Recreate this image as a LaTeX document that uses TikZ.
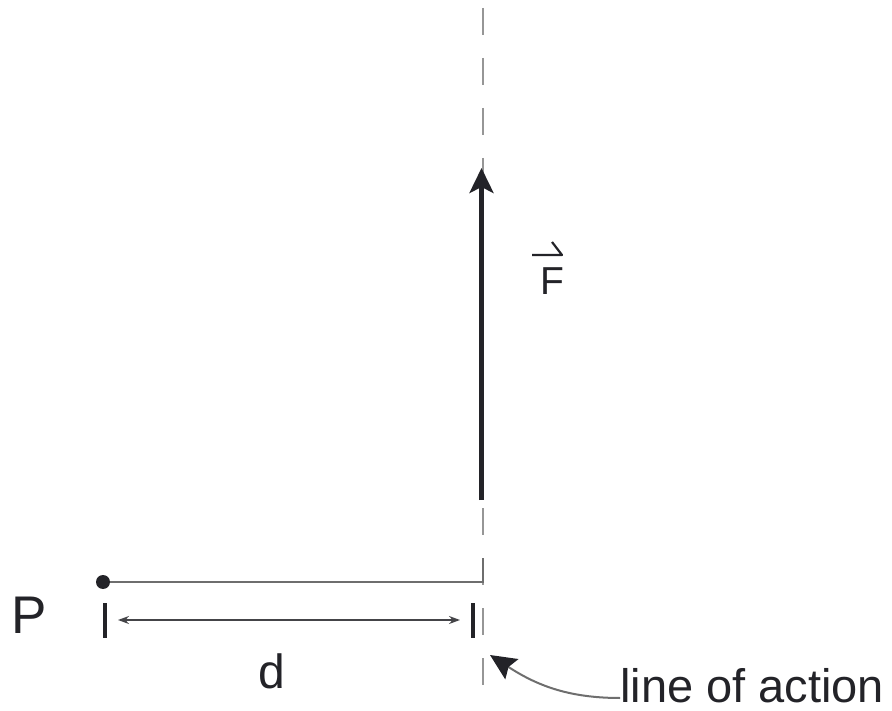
\documentclass[tikz,border=0pt]{standalone}
\usepackage{fontspec}
\setmainfont{Liberation Sans}
\usetikzlibrary{arrows.meta}
\definecolor{lgray}{RGB}{150,150,150}
\definecolor{mgray}{RGB}{110,110,110}
\definecolor{ink}{RGB}{35,35,40}
\tikzset{
  lbl/.style={inner sep=0pt, text=ink},
  tick/.style={line width=4pt, ink},
  actline/.style={lgray, line width=2pt, dash pattern=on 27pt off 23pt},
  dimline/.style={ink!85, line width=1.6pt, {Stealth[length=11pt,width=8pt]}-{Stealth[length=11pt,width=8pt]}},
  forcearrow/.style={line width=4.5pt, ink, -{Stealth[length=25pt,width=24pt,inset=6pt]}},
  pointer/.style={mgray, line width=2pt, -{Stealth[length=26pt,width=24pt,inset=4pt,color=ink]}}
}
\begin{document}
\begin{tikzpicture}[x=1pt,y=-1pt]
\useasboundingbox (0,0) rectangle (892,711);
% line of action (dashed)
\coordinate (ltop) at (483,8);
\coordinate (lbot) at (483,700);
\draw[actline] (ltop) -- (lbot);
% point P and perpendicular
\node[circle, fill=ink, minimum size=14pt, inner sep=0pt] (dot) at (103,582) {};
\coordinate (corner) at (483,582);
\draw[mgray, line width=2pt] (dot) -- (corner) -- (483,558);
% force
\coordinate (fbot) at (481.5,500);
\coordinate (ftop) at (481.5,168);
\draw[forcearrow] (fbot) -- (ftop);
\node[lbl, anchor=base west, font=\fontsize{39}{44}\selectfont] (F) at (540,295) {F};
\coordinate (h1) at (532,255);
\coordinate (h2) at (562,255);
\coordinate (h3) at (552,242);
\draw[ink, line width=2.2pt, line join=round] (h1) -- (h2) -- (h3);
% ticks and distance
\coordinate (t1a) at (105,603); \coordinate (t1b) at (105,638);
\coordinate (t2a) at (473,603); \coordinate (t2b) at (473,638);
\draw[tick] (t1a) -- (t1b);
\draw[tick] (t2a) -- (t2b);
\coordinate (d1) at (118,620);
\coordinate (d2) at (460,620);
\draw[dimline] (d1) -- (d2);
\node[lbl, anchor=base, font=\fontsize{48}{52}\selectfont] (d) at (272,688) {d};
\node[lbl, anchor=base west, font=\fontsize{53}{57}\selectfont] (P) at (11,633) {P};
% line of action label
\node[lbl, anchor=base west, font=\fontsize{47}{51}\selectfont] (loa) at (620,702) {line of action};
\coordinate (tip) at (490,655);
\draw[pointer] (loa.west |- 0,698) to[out=180, in=-33] (tip);
\end{tikzpicture}
\end{document}
